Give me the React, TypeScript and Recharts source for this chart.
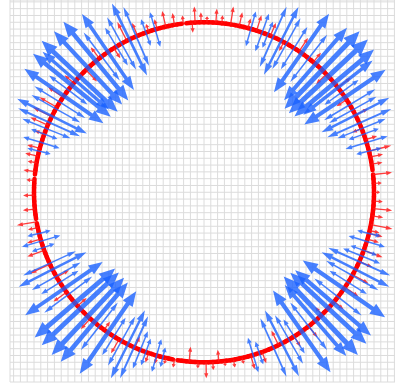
import React from "react";
import { ScatterChart, Scatter, XAxis, YAxis, CartesianGrid, ReferenceLine } from "recharts";

// blue double-headed vectors, angle in degrees (0 = right, counter-clockwise)
const blueAngles = [
  14, 17, 20, 22, 24, 27, 29, 31, 34, 36, 38, 40, 43, 46, 49, 52, 55, 58, 61, 63, 66, 68, 70, 74,
  106.7, 110, 113.5, 116, 119, 121, 124.4, 127, 129.5, 133, 137, 139, 141, 143, 145.5, 148, 150.6, 153.4, 155.7, 158, 160, 163, 166,
  194, 196.7, 199, 204.7, 207, 209.6, 212, 214.5, 217, 220.6, 223.3, 226.9, 229.8, 232, 235.6, 238, 241, 243.4, 245.7, 248, 250, 253.8, 256,
  286.8, 289, 294.1, 297.3, 300, 302, 305.1, 308, 311, 313.4, 317, 319.4, 322, 325.4, 328, 330.7, 333, 335.9, 338, 340, 343.2, 346,
];
const blueMagnitudes = [
  13, 22, 16, 26, 35, 38, 27, 30, 49, 21, 44, 52, 54, 54, 48, 30, 48, 25, 29, 38, 33, 14, 20, 18,
  18, 14, 32, 40, 30, 22, 46, 30, 51, 50, 52, 44, 50, 24, 48, 30, 28, 39, 34, 26, 14, 19, 12,
  12, 20, 12, 29, 38, 28, 22, 47, 30, 53, 53, 53, 52, 30, 50, 22, 28, 38, 34, 20, 14, 17, 10,
  18, 12, 32, 37, 28, 20, 50, 30, 47, 54, 52, 50, 30, 50, 22, 30, 38, 34, 20, 14, 19, 12,
];

// red single vectors (negative = pointing inward)
const redAngles = [
  -14, -11, -8, -5.5, -3, 0, 3, 6, 9.5, 12, 14, 18, 22, 27, 33, 38, 44, 50, 56, 62,
  67, 72, 75, 78, 81, 84, 86, 89, 91, 93, 94, 97, 100, 103, 106, 109, 113, 117, 122, 128,
  134, 140, 146, 150, 153.6, 156.7, 160, 165, 167.7, 170, 173, 176, 181, 185.7, 190, 192, 196, 200, 205, 210,
  216, 222, 228, 234, 240, 246, 251, 254, 257, 260, 265, 268, 270.7, 273, 275, 277, 280, 283, 286, 290,
  296, 302, 308, 314, 320, 326, 331, 336, 340, 344, 347,
];
const redMagnitudes = [
  14, 22, 11, 19, 9, 6, 8, 19, 11, 13, 23, 12, -10, 14, -12, 16, -14, 12, 16, -10,
  14, 16, 10, 14, 18, 8, 14, 6, 10, 16, -10, 8, 12, 16, 10, 8, 14, 21, -12, 14,
  -16, 12, 18, 20, 21, 19, 10, 13, 13, 9, 12, 8, 11, 12, 20, 10, 14, 18, 22, -14,
  16, -12, 14, -10, 16, -12, 10, 8, 6, 8, -15, 6, 16, 8, -12, 5, 8, 6, 14, 12,
  -16, 12, 14, -10, 12, 16, 18, 14, 20, 12, 10,
];

// breaks in the red ring (degrees)
const ringBreaks = [6, 96, 174, 189, 260];

const MAG_SCALE = 1 / 170;
const X_DOMAIN: [number, number] = [-1.1412, 1.1235];
const Y_DOMAIN: [number, number] = [-1.116, 1.131];

const gridXTicks: number[] = [];
const gridYTicks: number[] = [];
for (let i = -30; i <= 30; i++) {
  const v = +(i * 0.04).toFixed(2);
  if (v >= X_DOMAIN[0] && v <= X_DOMAIN[1]) gridXTicks.push(v);
  if (v >= Y_DOMAIN[0] && v <= Y_DOMAIN[1]) gridYTicks.push(v);
}

const rad = (d: number) => (d * Math.PI) / 180;
const onRing = (deg: number, r: number) => ({ x: r * Math.cos(rad(deg)), y: r * Math.sin(rad(deg)) });

// arrow polygon between the two ends the reference line got from the scales
const arrowShape = (color: string, opacity: number, thin: number) => (props: any) => {
  const { x1, y1, x2, y2 } = props;
  const dx = x2 - x1;
  const dy = y2 - y1;
  const len = Math.hypot(dx, dy);
  if (!len || isNaN(len)) return <g />;
  const ux = dx / len;
  const uy = dy / len;
  const nx = -uy;
  const ny = ux;
  const k = Math.pow(len / 54, 2);
  const sw = Math.max(2.5 * k, thin);
  const hw = Math.max(7 * k, thin * 3.2);
  const hl = Math.max(len * 0.3, Math.min(len * 0.45, 5));
  const bx = x2 - ux * hl;
  const by = y2 - uy * hl;
  const pts = [
    [x1 + nx * sw, y1 + ny * sw],
    [bx + nx * sw, by + ny * sw],
    [bx + nx * hw, by + ny * hw],
    [x2, y2],
    [bx - nx * hw, by - ny * hw],
    [bx - nx * sw, by - ny * sw],
    [x1 - nx * sw, y1 - ny * sw],
  ]
    .map((p) => `${p[0].toFixed(2)},${p[1].toFixed(2)}`)
    .join(" ");
  return <polygon points={pts} fill={color} fillOpacity={opacity} stroke="none" />;
};

const blueArrow = arrowShape("#1a62ff", 0.8, 0.75);
const redArrow = arrowShape("#ff1a1a", 0.85, 0.65);

const ringChords: { a: number; b: number }[] = [];
for (let a = 0; a < 360; a += 1.5) {
  const b = a + 1.5;
  if (ringBreaks.some((k) => k >= a && k < b)) continue;
  ringChords.push({ a, b });
}

export default function App() {
  return (
    <div style={{ position: "absolute", left: 0, top: 0, width: 395, height: 390, background: "#fff" }}>
      <ScatterChart width={395} height={390} margin={{ top: 0, right: 0, bottom: 8, left: 10 }}>
        <CartesianGrid stroke="#dcdcdc" strokeWidth={1} />
        <XAxis type="number" dataKey="x" domain={X_DOMAIN} ticks={gridXTicks} interval={0} hide allowDataOverflow />
        <YAxis type="number" dataKey="y" domain={Y_DOMAIN} ticks={gridYTicks} interval={0} hide allowDataOverflow />
        <Scatter data={[{ x: 0, y: 0 }]} shape={() => <g />} isAnimationActive={false} />
        {ringChords.map((c, i) => (
          <ReferenceLine
            key={`ring-${i}`}
            segment={[onRing(c.a, 1), onRing(c.b, 1)]}
            stroke="#ff0000"
            strokeWidth={4.5}
            strokeLinecap="round"
            ifOverflow="visible"
          />
        ))}
        {redAngles.map((deg, i) => (
          <ReferenceLine
            key={`red-${i}`}
            segment={[onRing(deg, 1), onRing(deg, 1 + redMagnitudes[i] * MAG_SCALE)]}
            shape={redArrow}
            ifOverflow="visible"
          />
        ))}
        {blueAngles.map((deg, i) => (
          <React.Fragment key={`blue-${i}`}>
            <ReferenceLine
              segment={[onRing(deg, 1), onRing(deg, 1 + blueMagnitudes[i] * MAG_SCALE)]}
              shape={blueArrow}
              ifOverflow="visible"
            />
            <ReferenceLine
              segment={[onRing(deg, 1), onRing(deg, 1 - blueMagnitudes[i] * MAG_SCALE)]}
              shape={blueArrow}
              ifOverflow="visible"
            />
          </React.Fragment>
        ))}
      </ScatterChart>
    </div>
  );
}
